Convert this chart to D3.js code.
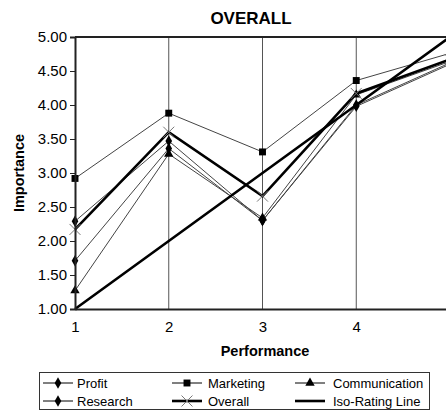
<!DOCTYPE html>
<html>
<head>
<meta charset="utf-8">
<script src="https://cdn.jsdelivr.net/npm/d3@7"></script>
<style>
  body { margin: 0; background: #fff; }
  svg { display: block; font-family: "Liberation Sans", Arial, sans-serif; }
</style>
</head>
<body>
<svg id="chart" width="446" height="411"></svg>
<script>
// values, one per performance level 1..5
const performance = [1, 2, 3, 4, 5];
const profit = [2.29, 3.47, 2.30, 4.00, 4.62];
const research = [1.71, 3.36, 2.30, 3.98, 4.60];
const marketing = [2.92, 3.88, 3.31, 4.36, 4.76];
const communication = [1.27, 3.28, 2.34, 4.15, 4.64];
const overall = [2.17, 3.60, 2.66, 4.17, 4.67];
const isoRating = [1, 2, 3, 4, 5];
const yTicks = [1, 1.5, 2, 2.5, 3, 3.5, 4, 4.5, 5];
// the last level sits just past the right edge of the picture
const xTickLabels = [1, 2, 3, 4];

const svg = d3.select('#chart');

var x = d3.scaleLinear().domain([1, 5]).range([75, 450]);
var y = d3.scaleLinear().domain([1, 5]).range([309, 37]);

// series table built from the arrays above
var series = [
  { name: 'Profit', values: profit, width: 1, color: '#444', symbol: d3.symbolDiamond, size: 38 },
  { name: 'Research', values: research, width: 1, color: '#444', symbol: d3.symbolDiamond, size: 38 },
  { name: 'Marketing', values: marketing, width: 1, color: '#444', symbol: d3.symbolSquare, size: 48 },
  { name: 'Communication', values: communication, width: 1, color: '#444', symbol: d3.symbolTriangle, size: 38 },
  { name: 'Overall', values: overall, width: 2.6, color: '#000', symbol: d3.symbolTimes, size: 80, stroke: true },
  { name: 'Iso-Rating Line', values: isoRating, width: 2.6, color: '#000', symbol: null }
];

// vertical gridlines
svg.append('g')
  .selectAll('line')
  .data(performance.slice(1))
  .join('line')
  .attr('x1', d => x(d)).attr('x2', d => x(d))
  .attr('y1', y(5)).attr('y2', y(1))
  .attr('stroke', '#555').attr('stroke-width', 1);

// top border
svg.append('line')
  .attr('x1', x(1)).attr('x2', x(5))
  .attr('y1', y(5)).attr('y2', y(5))
  .attr('stroke', '#222').attr('stroke-width', 2);

var line = d3.line()
  .x((d, i) => x(performance[i]))
  .y(d => y(d));

// draw thin lines first, heavy ones on top
var order = [0, 1, 2, 3, 5, 4];
order.forEach(function(k) {
  var s = series[k];
  svg.append('path')
    .datum(s.values)
    .attr('d', line)
    .attr('fill', 'none')
    .attr('stroke', s.color)
    .attr('stroke-width', s.width)
    .attr('stroke-linejoin', 'miter');
});

function drawMarker(g, s, cx, cy) {
  if (!s.symbol) return;
  var p = g.append('path')
    .attr('d', d3.symbol().type(s.symbol).size(s.size)())
    .attr('transform', 'translate(' + cx + ',' + cy + ')');
  if (s.stroke) {
    p.attr('fill', 'none').attr('stroke', '#777').attr('stroke-width', 1);
  } else {
    p.attr('fill', '#000');
  }
}

var markers = svg.append('g');
series.forEach(function(s) {
  s.values.forEach(function(v, i) {
    drawMarker(markers, s, x(performance[i]), y(v));
  });
});

// axes
var yAxis = svg.append('g')
  .attr('transform', 'translate(' + x(1) + ',0)')
  .call(d3.axisLeft(y).tickValues(yTicks).tickFormat(d3.format('.2f')).tickSize(5).tickPadding(3));
yAxis.select('.domain').attr('stroke', '#222').attr('stroke-width', 2);
yAxis.selectAll('.tick line').attr('stroke', '#222');
yAxis.selectAll('text').attr('font-size', 15).attr('fill', '#000');

var xAxis = svg.append('g')
  .attr('transform', 'translate(0,' + y(1) + ')')
  .call(d3.axisBottom(x).tickValues(xTickLabels).tickFormat(d3.format('d')).tickSize(0).tickPadding(12));
xAxis.select('.domain').attr('stroke', '#222').attr('stroke-width', 2);
xAxis.selectAll('text').attr('font-size', 15).attr('fill', '#000');

// titles
svg.append('text')
  .attr('x', 251).attr('y', 24)
  .attr('text-anchor', 'middle')
  .attr('font-size', 17).attr('font-weight', 'bold')
  .text('OVERALL');

svg.append('text')
  .attr('x', 265).attr('y', 356)
  .attr('text-anchor', 'middle')
  .attr('font-size', 14.5).attr('font-weight', 'bold')
  .text('Performance');

svg.append('text')
  .attr('transform', 'translate(24,' + y(3) + ') rotate(-90)')
  .attr('text-anchor', 'middle')
  .attr('font-size', 14.5).attr('font-weight', 'bold')
  .text('Importance');

// legend: three columns, two rows
var legend = svg.append('g');
legend.append('rect')
  .attr('x', 39.5).attr('y', 372.5)
  .attr('width', 390).attr('height', 37)
  .attr('fill', '#fff').attr('stroke', '#333').attr('stroke-width', 1);

var cols = [43, 172, 295];
var textGap = [34, 36, 38];
var rows = [383, 401];
// [column, row] for each series
var legendSlot = [[0, 0], [0, 1], [1, 0], [2, 0], [1, 1], [2, 1]];
series.forEach(function(s, i) {
  var c = legendSlot[i][0], r = legendSlot[i][1];
  var lx = cols[c], ly = rows[r];
  legend.append('line')
    .attr('x1', lx).attr('x2', lx + 30)
    .attr('y1', ly).attr('y2', ly)
    .attr('stroke', '#000')
    .attr('stroke-width', s.width > 2 ? 2.6 : 1);
  drawMarker(legend, s, lx + 15, ly);
  legend.append('text')
    .attr('x', lx + textGap[c]).attr('y', ly + 4.5)
    .attr('font-size', 13)
    .text(s.name);
});
</script>
</body>
</html>
